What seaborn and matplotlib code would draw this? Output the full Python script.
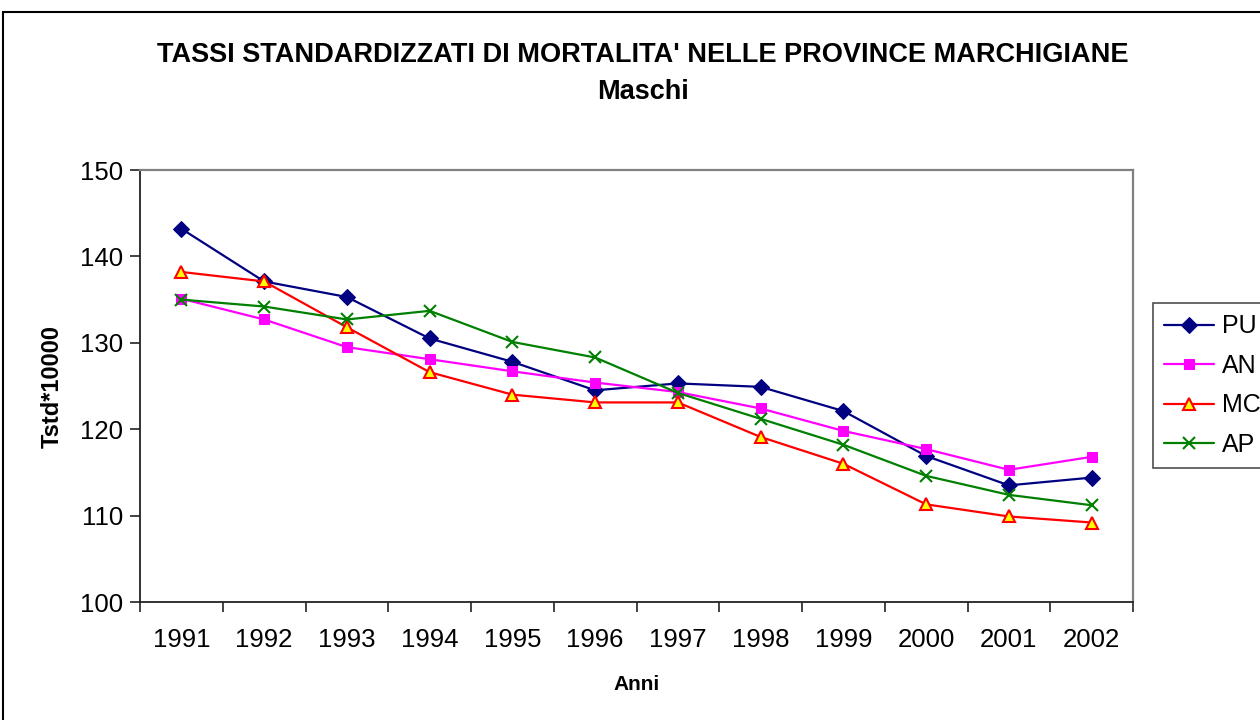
import numpy as np
import pandas as pd
import matplotlib
matplotlib.use('Agg')
import matplotlib.pyplot as plt
from matplotlib.patches import Rectangle
import seaborn as sns

# data
anni = [1991, 1992, 1993, 1994, 1995, 1996, 1997, 1998, 1999, 2000, 2001, 2002]
pu = [143.2, 137.1, 135.3, 130.5, 127.8, 124.5, 125.3, 124.9, 122.1, 116.9, 113.5, 114.4]
an = [135.1, 132.7, 129.5, 128.1, 126.7, 125.4, 124.3, 122.4, 119.8, 117.7, 115.3, 116.8]
mc = [138.2, 137.1, 131.8, 126.6, 124.0, 123.1, 123.1, 119.1, 116.0, 111.3, 109.9, 109.2]
ap = [135.0, 134.2, 132.7, 133.7, 130.1, 128.3, 124.2, 121.2, 118.2, 114.6, 112.4, 111.2]
province = ['PU', 'AN', 'MC', 'AP']

df = pd.DataFrame({'Anni': anni, 'PU': pu, 'AN': an, 'MC': mc, 'AP': ap})
df['pos'] = np.arange(len(anni))
long_df = df.melt(id_vars=['Anni', 'pos'], value_vars=province,
                  var_name='Provincia', value_name='Tstd')

styles = {
    'PU': dict(color='#000080', marker='D', markersize=8, markerfacecolor='#000080',
               markeredgecolor='#000080'),
    'AN': dict(color='#FF00FF', marker='s', markersize=7.5, markerfacecolor='#FF00FF',
               markeredgecolor='#FF00FF'),
    'MC': dict(color='#FF0000', marker='^', markersize=9, markerfacecolor='#FFFF00',
               markeredgecolor='#FF0000', markeredgewidth=1.5),
    'AP': dict(color='#008000', marker='x', markersize=9, markeredgecolor='#008000',
               markeredgewidth=1.5),
}

sns.set_style('white')
plt.rcParams['font.family'] = ['Liberation Sans', 'DejaVu Sans']
plt.rcParams['text.color'] = 'black'
plt.rcParams['axes.labelcolor'] = 'black'
plt.rcParams['xtick.color'] = 'black'
plt.rcParams['ytick.color'] = 'black'

fig = plt.figure(figsize=(12.6, 7.2), dpi=100)
ax = fig.add_axes([140 / 1260, 1 - 602 / 720, (1133 - 140) / 1260, (602 - 170) / 720])

for p in province:
    sub = long_df[long_df['Provincia'] == p]
    sns.lineplot(data=sub, x='pos', y='Tstd', ax=ax, label=p, linewidth=1.6, **styles[p])

ax.set_xlim(-0.5, len(anni) - 0.5)
ax.set_ylim(100, 150)
ax.set_yticks(np.arange(100, 151, 10))
ax.set_xticks(np.arange(-0.5, len(anni), 1.0))
ax.set_xticklabels([])
ax.set_xticks(np.arange(len(anni)), minor=True)
ax.set_xticklabels([str(a) for a in anni], minor=True)
ax.tick_params(axis='x', which='major', direction='out', length=7, width=1.2, color='#222222',
               bottom=True)
ax.tick_params(axis='x', which='minor', length=0, pad=19, labelsize=18.5, bottom=True)
ax.tick_params(axis='y', direction='out', length=7, width=1.2, color='#222222', labelsize=18.5,
               pad=5, left=True)

for side in ['left', 'bottom']:
    ax.spines[side].set_color('#222222')
    ax.spines[side].set_linewidth(1.3)
for side in ['top', 'right']:
    ax.spines[side].set_color('#808080')
    ax.spines[side].set_linewidth(1.6)

ax.set_xlabel('Anni', fontsize=15, fontweight='bold', labelpad=16)
ax.set_ylabel('Tstd*10000', fontsize=17, fontweight='bold', labelpad=12)
ax.grid(False)

fig.text(0.51, 1 - 55 / 720, "TASSI STANDARDIZZATI DI MORTALITA' NELLE PROVINCE MARCHIGIANE",
         ha='center', va='center', fontsize=19.5, fontweight='bold')
fig.text(0.51, 1 - 92 / 720, 'Maschi', ha='center', va='center', fontsize=19.5,
         fontweight='bold')

leg = ax.legend(loc='upper left', bbox_to_anchor=(1153 / 1260, 1 - 303 / 720),
                bbox_transform=fig.transFigure, fontsize=18, frameon=True, fancybox=False,
                handlelength=2.0, handletextpad=0.3, labelspacing=0.62, borderpad=0.45,
                borderaxespad=0)
leg.get_frame().set_edgecolor('#222222')
leg.get_frame().set_linewidth(1.2)

# outer chart border
fig.add_artist(Rectangle((3 / 1260, -0.1), 1.2, 1 - 12 / 720 + 0.1, transform=fig.transFigure,
                         fill=False, edgecolor='black', linewidth=1.5))

plt.savefig('out.png', dpi=100)
